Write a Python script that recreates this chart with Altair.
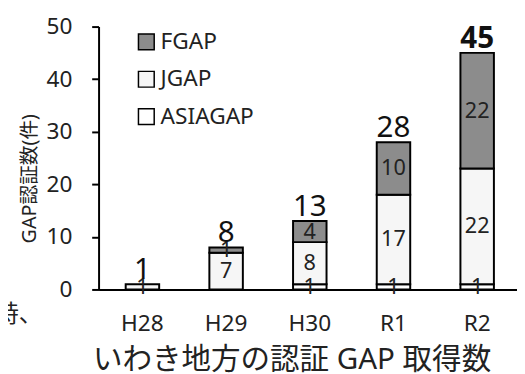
import altair as alt
import pandas as pd

years = ["H28", "H29", "H30", "R1", "R2"]
series = ["ASIAGAP", "JGAP", "FGAP"]
asiagap = [0, 0, 1, 1, 1]
jgap = [1, 7, 8, 17, 22]
fgap = [0, 1, 4, 10, 22]
totals = [1, 8, 13, 28, 45]
bold_total = [False, False, False, False, True]
legend_order = ["FGAP", "JGAP", "ASIAGAP"]
fills = ["#8c8c8c", "#f6f6f6", "#ffffff"]

rows = []
for i, yr in enumerate(years):
    for k, (s, vals) in enumerate(zip(series, [asiagap, jgap, fgap])):
        rows.append({"year": yr, "series": s, "value": vals[i], "ord": k})
df = pd.DataFrame(rows)
tot = pd.DataFrame({"year": years, "total": totals, "bold": bold_total})

FONT = "Noto Sans, Noto Sans CJK JP"
xscale = alt.Scale(domain=years, paddingInner=0.6, paddingOuter=0.3, align=0.54)
yscale = alt.Scale(domain=[0, 50])

base = alt.Chart(df).transform_filter("datum.value > 0")

bars = base.mark_bar(stroke="black", strokeWidth=2).encode(
    x=alt.X("year:N", scale=xscale, sort=years,
            axis=alt.Axis(title="いわき地方の認証 GAP 取得数", labelAngle=0, ticks=False,
                          domainColor="black", domainWidth=2, labelFontSize=23,
                          labelFont=FONT, labelColor="#222", labelPadding=24,
                          titleFont=FONT, titleFontSize=30, titleFontWeight="normal",
                          titleColor="#222", titlePadding=9, titleX=196)),
    y=alt.Y("value:Q", stack="zero", scale=yscale,
            axis=alt.Axis(title="GAP認証数(件)", values=[0, 10, 20, 30, 40, 50], grid=False,
                          domainColor="black", domainWidth=2, tickColor="black",
                          tickWidth=2, tickSize=7, labelPadding=20, labelFontSize=23,
                          labelFont=FONT, labelColor="#222",
                          titleFont=FONT, titleFontSize=20, titleFontWeight="normal",
                          titleColor="#222", titleAngle=-90, titleX=-70, titleY=154,
                          titleAlign="center", titleBaseline="middle")),
    color=alt.Color("series:N",
                    scale=alt.Scale(domain=legend_order, range=fills),
                    legend=alt.Legend(title=None, orient="none", legendX=37, legendY=4,
                                      symbolType="square", symbolSize=256,
                                      symbolStrokeColor="black", symbolStrokeWidth=1.5,
                                      symbolOpacity=1, labelFontSize=23, labelFont=FONT,
                                      labelColor="#222", rowPadding=14, labelOffset=3)),
    order=alt.Order("ord:Q"),
)

seg_text = base.transform_stack(
    stack="value", groupby=["year"], sort=[alt.SortField("ord")], as_=["y0", "y1"]
).transform_calculate(mid="(datum.y0 + datum.y1) / 2").mark_text(
    fontSize=22, font=FONT, color="#222", baseline="middle"
).encode(
    x=alt.X("year:N", scale=xscale, sort=years),
    y=alt.Y("mid:Q", scale=yscale),
    text="value:Q",
)

tot_base = alt.Chart(tot).encode(
    x=alt.X("year:N", scale=xscale, sort=years),
    y=alt.Y("total:Q", scale=yscale),
    text="total:Q",
)
tot_normal = tot_base.transform_filter("!datum.bold").mark_text(
    fontSize=30, font=FONT, color="#111", baseline="alphabetic", dy=-5)
tot_bold = tot_base.transform_filter("datum.bold").mark_text(
    fontSize=30, font=FONT, fontWeight="bold", color="#111", baseline="alphabetic", dy=-5)

side = alt.Chart(pd.DataFrame({"t": ["時、"]})).mark_text(
    fontSize=24, font=FONT, color="#222", align="left", baseline="middle"
).encode(x=alt.value(-105), y=alt.value(293), text="t:N")

chart = alt.layer(bars, seg_text, tot_normal, tot_bold, side).properties(
    width=425, height=267,
    autosize=alt.AutoSizeParams(type="none"),
    padding={"left": 92, "top": 16, "right": 0, "bottom": 83},
).configure_view(stroke=None)

chart.save("out.html", embed_options={"renderer": "svg", "actions": False})
